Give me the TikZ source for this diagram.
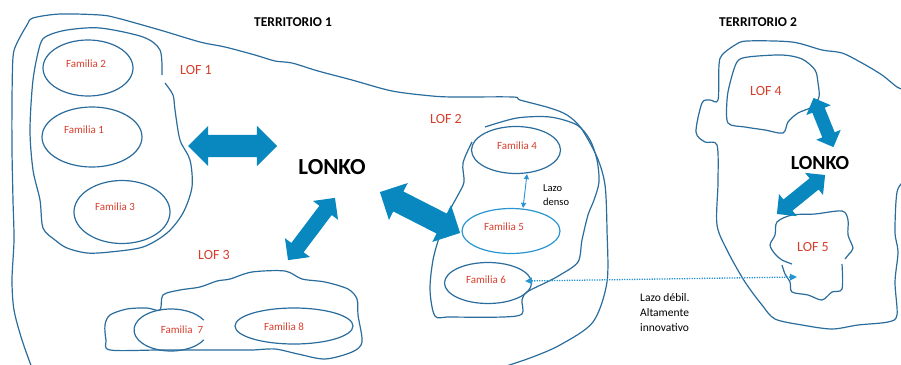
\documentclass[tikz,border=0pt]{standalone}
\usepackage{fontspec}
\setmainfont{Carlito}
\usetikzlibrary{shapes.geometric}
\usetikzlibrary{shapes.arrows}
\usetikzlibrary{arrows.meta}
\definecolor{lineblue}{RGB}{42,108,156}
\definecolor{arrowblue}{RGB}{8,136,190}
\definecolor{lazoblue}{RGB}{40,148,208}
\definecolor{lofred}{RGB}{214,62,44}
\tikzset{
	region/.style = {
		draw=lineblue,
		line width=1.2pt,
		line join=round,
		tension=0.5
	},
	fam_ring/.style = {
		ellipse,
		draw=lineblue,
		line width=1.2pt,
		inner sep=0pt
	},
	fam_ring_light/.style = {
		fam_ring,
		draw=lazoblue
	},
	fam_text/.style = {
		inner sep=0pt,
		text=lofred,
		font=\fontsize{11}{13}\selectfont
	},
	lof_text/.style = {
		inner sep=0pt,
		text=lofred,
		font=\fontsize{14}{16}\selectfont
	},
	title_text/.style = {
		inner sep=0pt,
		font=\fontsize{13.5}{16}\selectfont\bfseries
	},
	lonko_text/.style = {
		inner sep=0pt,
		font=\fontsize{23}{26}\selectfont\bfseries
	},
	note_text/.style = {
		inner sep=0pt,
		anchor=west,
		align=left
	},
	big_arrow/.style = {
		double arrow,
		fill=arrowblue,
		inner xsep=0pt,
		double arrow tip angle=90
	},
	dense_link/.style = {
		draw=lazoblue,
		line width=0.9pt,
		{Triangle[length=5pt,width=5pt]}-{Triangle[length=5pt,width=5pt]}
	},
	weak_link/.style = {
		draw=lazoblue,
		line width=1.3pt,
		dash pattern=on 1.2pt off 1.3pt,
		{Triangle[length=7pt,width=6.5pt]}-{Triangle[length=7pt,width=6.5pt]}
	},
}
\begin{document}
\begin{tikzpicture}[x=1pt, y=-1pt]
\useasboundingbox (0,0) rectangle (901,364);
\clip (0,0) rectangle (901,364);

% territorio 1
\draw[region, smooth] plot coordinates {(32,368) (22,340) (14,310) (12,280) (14,240) (13,200) (12,150) (12,100) (13,57) (17,43) (27,25) (33,18) (60,14) (100,15) (117,18) (160,30) (200,42) (225,47) (255,55) (275,61) (292,63) (318,71) (352,80) (392,91) (432,96) (455,97) (513,97) (520,100) (550,108) (567,115) (581,128) (597,157) (605,185) (607,230) (607,282) (593,322) (560,345) (530,358) (500,368)};
\draw[region, smooth] plot coordinates {(162,75) (160,50) (143,37) (100,28) (67,30) (47,36) (40,45) (33,80) (30,130) (33,170) (40,200) (43,228) (55,240) (67,248) (87,253) (110,252) (143,247) (167,233) (183,213) (192,187) (190,160) (180,140) (175,110) (173,95) (165,83)};
\draw[region, smooth cycle] plot coordinates {(160,310) (163,295) (180,290) (200,287) (217,281) (230,279) (252,272) (285,271) (302,279) (325,282) (348,289) (357,299) (358,315) (362,342) (352,352) (325,359) (298,354) (275,349) (252,350) (225,350) (160,350) (110,350) (106,340) (105,325) (110,315) (127,309) (147,308)};
\draw[region, smooth] plot coordinates {(485,127) (517,118) (550,117) (577,125) (590,140) (597,160) (599,182) (594,200) (588,215) (582,240) (578,262) (560,275) (547,282) (527,292) (522,300) (522,314) (503,317) (450,317) (435,316) (430,290) (433,260) (440,235) (450,210) (458,195) (464,182) (463,163) (472,142)};

% territorio 2
\draw[region, smooth] plot coordinates {(905,90) (897,87) (882,75) (862,63) (842,53) (822,50) (792,42) (747,41) (735,45) (722,55) (719,65) (718,100) (710,100) (702,103) (696,132) (705,142) (717,145) (718,182) (717,225) (728,252) (745,282) (762,305) (775,319) (802,325) (832,329) (858,325) (888,322) (897,315) (895,282) (898,252) (895,232) (897,192) (905,180)};
\draw[region, smooth cycle] plot coordinates {(737,62) (748,57) (782,55) (802,59) (815,70) (818,83) (819,97) (812,107) (798,113) (788,122) (783,133) (765,130) (745,127) (728,123) (727,100) (730,83)};
\draw[region, smooth] plot coordinates {(845,259) (849,254) (853,248) (848,235) (848,220) (842,211) (815,214) (792,215) (777,222) (775,235) (770,245) (775,254) (782,260) (792,264)};
\draw[region, smooth] plot coordinates {(782,265) (785,274) (790,282) (792,292) (808,295) (822,300) (832,292) (842,289) (842,264)};

% familias
\node[fam_ring, minimum width=90pt, minimum height=56pt] (f2) at (88,68) {};
\node[fam_ring, minimum width=100pt, minimum height=60pt] (f1) at (92,137) {};
\node[fam_ring, minimum width=96pt, minimum height=63pt] (f3) at (122,212) {};
\node[fam_ring, draw=none, minimum width=74pt, minimum height=42pt] (f7) at (171,330) {};
\draw[region] (f7.center) ++(28:37 and 21) arc[start angle=28, end angle=332, x radius=37, y radius=21];
\node[fam_ring, minimum width=118pt, minimum height=36pt] (f8) at (294,326) {};
\node[fam_ring, minimum width=89pt, minimum height=47pt] (f4) at (516,150) {};
\node[fam_ring_light, minimum width=98pt, minimum height=45pt] (f5) at (511,231) {};
\node[fam_ring, minimum width=87pt, minimum height=41pt] (f6) at (488,283) {};

\node[fam_text] (t_f2) at (86,64) {Familia 2};
\node[fam_text] (t_f1) at (84,130) {Familia 1};
\node[fam_text] (t_f3) at (115,207) {Familia 3};
\node[fam_text] (t_f7) at (182,330) {Familia\ \ 7};
\node[fam_text] (t_f8) at (284,327) {Familia 8};
\node[fam_text] (t_f4) at (517,146) {Familia 4};
\node[fam_text] (t_f5) at (504,227) {Familia 5};
\node[fam_text] (t_f6) at (486,280) {Familia 6};

\node[lof_text] (lof1) at (196,70) {LOF 1};
\node[lof_text] (lof2) at (446,119) {LOF 2};
\node[lof_text] (lof3) at (214,255) {LOF 3};
\node[lof_text] (lof4) at (766,91) {LOF 4};
\node[lof_text] (lof5) at (813,247) {LOF 5};

\node[title_text] (terr1) at (293,22) {TERRITORIO 1};
\node[title_text] (terr2) at (758,22) {TERRITORIO 2};
\node[lonko_text] (lonko1) at (332,167) {LONKO};
\node[lonko_text, font=\fontsize{20}{24}\selectfont\bfseries] (lonko2) at (820,163) {LONKO};

% flechas
\node[big_arrow, minimum height=89pt, inner ysep=11pt, double arrow head extend=9pt] (arr_lof1) at (232.5,146) {};
\node[big_arrow, minimum height=78pt, inner ysep=7.5pt, double arrow head extend=8pt, rotate=53] (arr_lof3) at (311.5,229) {};
\node[big_arrow, minimum height=90pt, inner ysep=11pt, double arrow head extend=9.5pt, rotate=-27] (arr_lof2) at (420,212.5) {};
\node[big_arrow, minimum height=53pt, inner ysep=6.5pt, double arrow head extend=6.5pt, rotate=-68] (arr_lof4) at (823.5,122.5) {};
\node[big_arrow, minimum height=62pt, inner ysep=7pt, double arrow head extend=7pt, rotate=39] (arr_lof5) at (801,194.5) {};

\draw[dense_link] ([xshift=11pt]f4.south) -- ([xshift=12pt]f5.north);
\node[note_text, font=\fontsize{10.5}{14}\selectfont] (lazo_denso) at (543,195) {Lazo\\denso};

\coordinate (weak_a) at (525,281);
\coordinate (weak_b) at (797,277);
\draw[weak_link] (weak_a) -- (weak_b);
\node[note_text, font=\fontsize{11.5}{15}\selectfont] (lazo_debil) at (640,313) {Lazo débil.\\Altamente\\innovativo};
\end{tikzpicture}
\end{document}
